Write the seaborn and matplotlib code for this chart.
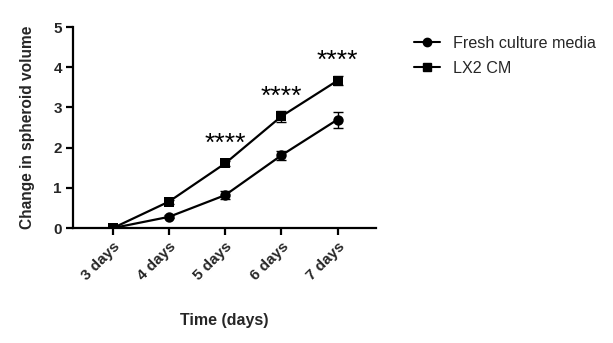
import matplotlib
matplotlib.use("Agg")
import matplotlib.pyplot as plt
import seaborn as sns
import pandas as pd

days = ["3 days", "4 days", "5 days", "6 days", "7 days"]
fresh_mean = [0.0, 0.28, 0.82, 1.81, 2.70]
fresh_err = [0.03, 0.04, 0.10, 0.11, 0.20]
lx2_mean = [0.0, 0.66, 1.61, 2.78, 3.67]
lx2_err = [0.03, 0.05, 0.06, 0.13, 0.12]
star_labels = ["", "", "****", "****", "****"]
series_names = ["Fresh culture media", "LX2 CM"]

sns.set_theme(style="ticks")
plt.rcParams["font.family"] = ["Liberation Sans", "DejaVu Sans"]

df = pd.DataFrame({
    "day": days * 2,
    "x": list(range(len(days))) * 2,
    "value": fresh_mean + lx2_mean,
    "err": fresh_err + lx2_err,
    "group": [series_names[0]] * len(days) + [series_names[1]] * len(days),
})

fig = plt.figure(figsize=(6.13, 3.43), dpi=100)
ax = fig.add_axes([0.119, 0.335, 0.494, 0.586])

sns.lineplot(data=df, x="x", y="value", hue="group", style="group",
             markers={series_names[0]: "o", series_names[1]: "s"},
             dashes=False, palette=["black", "black"], markersize=7.5,
             markeredgewidth=0, linewidth=1.6, ax=ax, legend=False, zorder=3)

for means, errs in [(fresh_mean, fresh_err), (lx2_mean, lx2_err)]:
    ax.errorbar(range(len(days)), means, yerr=errs, fmt="none",
                ecolor="black", elinewidth=1.0, capsize=3.5, capthick=1.0, zorder=2)

# significance marks sit above the upper series
for i, lab in enumerate(star_labels):
    if lab:
        ax.text(i, lx2_mean[i] + 0.54, lab, ha="center", va="center_baseline",
                fontsize=19, color="black")

ax.set_xlim(-0.71, 4.68)
ax.set_ylim(0, 5)
ax.set_yticks([0, 1, 2, 3, 4, 5])
ax.set_xticks(range(len(days)))
ax.set_xticklabels(days, rotation=45, ha="right", rotation_mode="anchor")
for lbl in ax.get_xticklabels() + ax.get_yticklabels():
    lbl.set_fontweight("bold")
    lbl.set_fontsize(11)
ax.set_xlabel("Time (days)", fontsize=11.5, fontweight="bold", labelpad=22)
ax.set_ylabel("Change in spheroid volume", fontsize=11.2, fontweight="bold", labelpad=13)

for side in ["top", "right"]:
    ax.spines[side].set_visible(False)
for side in ["left", "bottom"]:
    ax.spines[side].set_linewidth(1.6)
    ax.spines[side].set_color("black")
ax.tick_params(axis="both", width=1.6, length=5, color="black", pad=3)

handles = [
    plt.Line2D([], [], color="black", marker="o", markersize=6, linewidth=1.5),
    plt.Line2D([], [], color="black", marker="s", markersize=6, linewidth=1.5),
]
fig.legend(handles, series_names, loc="upper left", bbox_to_anchor=(0.652, 0.937),
           frameon=False, fontsize=11.6, handlelength=1.6, labelspacing=0.6,
           handletextpad=0.8)

fig.savefig("out.png", dpi=100)
